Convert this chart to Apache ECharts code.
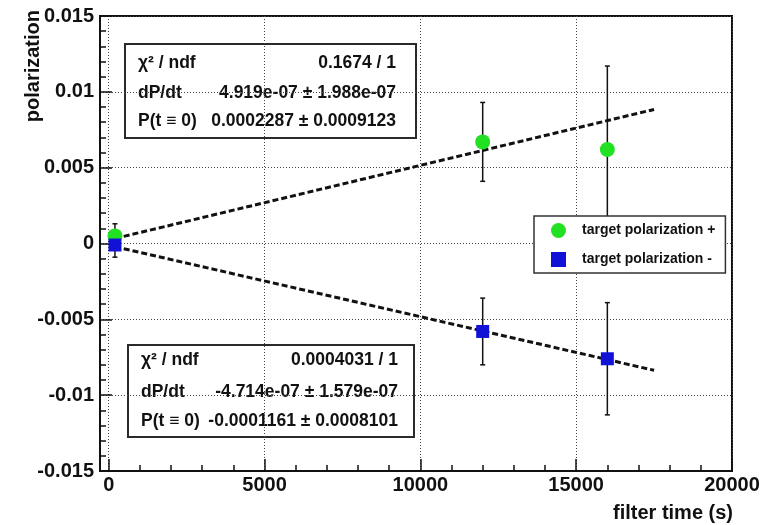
<!DOCTYPE html>
<html><head><meta charset="utf-8">
<script src="https://cdn.jsdelivr.net/npm/echarts@6/dist/echarts.min.js"></script>
<style>html,body{margin:0;padding:0;background:#fff}#c{width:783px;height:525px}</style>
</head><body><div id="c"></div>
<script>
// ---- data ----
const seriesNames = ['target polarization +', 'target polarization -'];
const xPlus = [200, 12000, 16000];
const yPlus = [0.0005, 0.0067, 0.0062];
const ePlus = [0.0008, 0.0026, 0.0055];
const xMinus = [200, 12000, 16000];
const yMinus = [-0.0001, -0.0058, -0.0076];
const eMinus = [0.0008, 0.0022, 0.0037];
const fitPlusX = [200, 17500];
const fitPlusY = [0.00033, 0.00884];
const fitMinusX = [200, 17500];
const fitMinusY = [-0.00021, -0.00836];
const xTicks = [0, 5000, 10000, 15000, 20000];
const xTickLabels = ['0', '5000', '10000', '15000', '20000'];
const xMinorTicks = [1000, 2000, 3000, 4000, 6000, 7000, 8000, 9000, 11000, 12000, 13000, 14000, 16000, 17000, 18000, 19000];
const yTickLabels = ['-0.015', '-0.01', '-0.005', '0', '0.005', '0.01', '0.015'];
const statPlus = [['χ² / ndf', '0.1674 / 1'], ['dP/dt', '4.919e-07 ± 1.988e-07'], ['P(t ≡ 0)', '0.0002287 ± 0.0009123']];
const statMinus = [['χ² / ndf', '0.0004031 / 1'], ['dP/dt', '-4.714e-07 ± 1.579e-07'], ['P(t ≡ 0)', '-0.0001161 ± 0.0008101']];
const xTitle = 'filter time (s)';
const yTitle = 'polarization';

// ---- styles ----
const FONT = 'Liberation Sans, Arial, sans-serif';
const INK = '#111';
const GREEN = '#22e022';
const BLUE = '#1212d6';

const chart = echarts.init(document.getElementById('c'), null, {renderer: 'canvas'});

function errSeries(xs, ys, es) {
  return {
    type: 'custom', xAxisIndex: 0, yAxisIndex: 0, z: 3, silent: true,
    data: xs.map((x, i) => [x, ys[i] - es[i], ys[i] + es[i]]),
    encode: {x: 0, y: [1, 2]},
    renderItem(params, api) {
      const lo = api.coord([api.value(0), api.value(1)]);
      const hi = api.coord([api.value(0), api.value(2)]);
      const c = 2.5, st = {stroke: INK, lineWidth: 1.5};
      return {type: 'group', children: [
        {type: 'line', shape: {x1: lo[0], y1: lo[1], x2: hi[0], y2: hi[1]}, style: st},
        {type: 'line', shape: {x1: lo[0] - c, y1: lo[1], x2: lo[0] + c, y2: lo[1]}, style: st},
        {type: 'line', shape: {x1: hi[0] - c, y1: hi[1], x2: hi[0] + c, y2: hi[1]}, style: st}
      ]};
    }
  };
}

function fitSeries(xs, ys) {
  return {
    type: 'line', xAxisIndex: 0, yAxisIndex: 0, z: 2, silent: true, showSymbol: false,
    data: xs.map((x, i) => [x, ys[i]]),
    lineStyle: {color: INK, width: 3, type: [6, 3]}
  };
}

function statBox(x, y, w, h, rows, lx, rx, rowYs) {
  const children = [{type: 'rect', shape: {x: x, y: y, width: w, height: h},
    style: {fill: '#fff', stroke: '#2a2a2a', lineWidth: 2}}];
  rows.forEach((r, i) => {
    children.push({type: 'text', x: lx, y: rowYs[i], style: {text: r[0], font: 'bold 17.5px ' + FONT, fill: INK, align: 'left', verticalAlign: 'middle'}});
    children.push({type: 'text', x: rx, y: rowYs[i], style: {text: r[1], font: 'bold 17.5px ' + FONT, fill: INK, align: 'right', verticalAlign: 'middle'}});
  });
  return {type: 'group', z: 20, children: children};
}

const option = {
  animation: false,
  backgroundColor: '#fff',
  grid: {left: 100, top: 16, width: 632, height: 455, show: true, borderColor: INK, borderWidth: 2,
         backgroundColor: '#fff', containLabel: false, outerBoundsMode: 'none'},
  xAxis: [{
    type: 'value', min: -280, max: 20000, position: 'bottom',
    axisLine: {show: true, onZero: false, lineStyle: {color: INK, width: 2}},
    axisTick: {show: true, inside: true, length: 12, customValues: xTicks, lineStyle: {color: INK, width: 1.5}},
    axisLabel: {show: true, customValues: xTicks, margin: 4, color: INK, fontSize: 20, fontWeight: 'bold', fontFamily: FONT,
      formatter: v => xTickLabels[xTicks.indexOf(Math.round(v))]},
    splitLine: {show: true, lineStyle: {color: '#444', width: 1, type: [1, 2]}},
    minorTick: {show: false}
  }, {
    type: 'value', min: -280, max: 20000, position: 'bottom',
    axisLine: {show: false, onZero: false},
    axisTick: {show: true, inside: true, length: 6, customValues: xMinorTicks, lineStyle: {color: INK, width: 1.5}},
    axisLabel: {show: false},
    splitLine: {show: false}
  }],
  yAxis: {
    type: 'value', min: -0.015, max: 0.015, interval: 0.005,
    axisLine: {show: true, onZero: false, lineStyle: {color: INK, width: 2}},
    axisTick: {show: true, inside: true, length: 12, lineStyle: {color: INK, width: 1.5}},
    minorTick: {show: true, splitNumber: 5, length: 6, lineStyle: {color: INK, width: 1.5}},
    axisLabel: {show: true, margin: 6, color: INK, fontSize: 20, fontWeight: 'bold', fontFamily: FONT,
      showMinLabel: true, showMaxLabel: true,
      formatter: v => yTickLabels[Math.round((v + 0.015) / 0.005)]},
    splitLine: {show: true, lineStyle: {color: '#444', width: 1, type: [1, 2]}}
  },
  legend: {
    left: 534, top: 216, orient: 'vertical', z: 15, selectedMode: false,
    data: [{name: seriesNames[0], icon: 'circle'}, {name: seriesNames[1], icon: 'rect'}],
    itemWidth: 15, itemHeight: 15, itemGap: 14,
    padding: [7, 10, 6, 17],
    backgroundColor: '#fff', borderColor: '#333', borderWidth: 1.5,
    textStyle: {fontSize: 14, fontWeight: 'bold', fontFamily: FONT, color: INK, padding: [0, 0, 0, 11], lineHeight: 15}
  },
  graphic: [
    statBox(125, 44, 291, 94, statPlus, 138, 396, [63, 93.5, 121]),
    statBox(128, 345, 286, 92, statMinus, 141, 398, [360.5, 392.5, 421.5]),
    {type: 'text', z: 20, x: 733, y: 513, style: {text: xTitle, font: 'bold 20px ' + FONT, fill: INK, align: 'right', verticalAlign: 'middle'}},
    {type: 'text', z: 20, x: 33, y: 10, rotation: Math.PI / 2, style: {text: yTitle, font: 'bold 20px ' + FONT, fill: INK, align: 'right', verticalAlign: 'middle'}}
  ],
  series: [
    fitSeries(fitPlusX, fitPlusY),
    fitSeries(fitMinusX, fitMinusY),
    errSeries(xPlus, yPlus, ePlus),
    errSeries(xMinus, yMinus, eMinus),
    {name: seriesNames[0], type: 'scatter', xAxisIndex: 0, yAxisIndex: 0, z: 5, symbol: 'circle', symbolSize: 15,
     itemStyle: {color: GREEN, opacity: 1}, data: xPlus.map((x, i) => [x, yPlus[i]])},
    {name: seriesNames[1], type: 'scatter', xAxisIndex: 0, yAxisIndex: 0, z: 6, symbol: 'rect', symbolSize: 13,
     itemStyle: {color: BLUE, opacity: 1}, data: xMinus.map((x, i) => [x, yMinus[i]])}
  ]
};
chart.setOption(option);
</script>
</body></html>
